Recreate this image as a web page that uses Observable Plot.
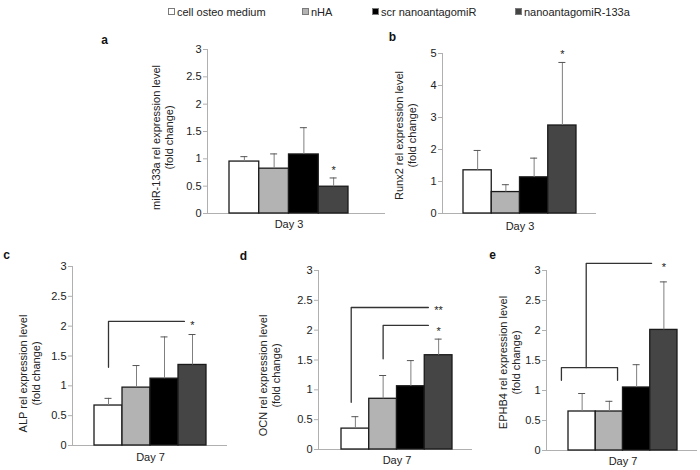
<!DOCTYPE html>
<html>
<head>
<meta charset="utf-8">
<script src="https://cdn.jsdelivr.net/npm/d3@7"></script>
<script src="https://cdn.jsdelivr.net/npm/@observablehq/plot@0.6"></script>
<style>
  body { margin: 0; background: #fff; }
  #chart { position: relative; width: 700px; height: 470px; overflow: hidden; background: #fff;
           font-family: "Liberation Sans", Arial, sans-serif; }
  #chart svg { position: absolute; left: 0; top: 0; }
  .lg { position: absolute; top: 5px; font-size: 11px; color: #222; white-space: nowrap; line-height: 14px; }
  .lg i { display: inline-block; width: 5px; height: 5px; border: 1px solid #7a7a7a; margin-right: 2px; vertical-align: 1px; }
</style>
</head>
<body>
<div id="chart"></div>
<script>
// ---------- data ----------
const groups = ["cell osteo medium", "nHA", "scr nanoantagomiR", "nanoantagomiR-133a"];
const groupColors = ["#ffffff", "#b3b3b3", "#000000", "#454545"];

// panel a: miR-133a, Day 3
const mir133aMean = [0.95, 0.82, 1.08, 0.49];
const mir133aErr  = [1.04, 1.09, 1.57, 0.65];
const mir133aStars = [{group: 3, y: 0.84, label: "*"}];

// panel b: Runx2, Day 3
const runx2Mean = [1.35, 0.67, 1.13, 2.75];
const runx2Err  = [1.97, 0.90, 1.73, 4.72];
const runx2Stars = [{group: 3, y: 5.05, label: "*"}];

// panel c: ALP, Day 7
const alpMean = [0.67, 0.97, 1.12, 1.35];
const alpErr  = [0.79, 1.34, 1.82, 1.86];
const alpStars = [{group: 3, y: 2.06, label: "*"}];
const alpBrackets = [{id: "c1", pts: [[0, 1.31], [0, 2.08], [2.71, 2.08]]}];

// panel d: OCN, Day 7
const ocnMean = [0.35, 0.85, 1.06, 1.58];
const ocnErr  = [0.55, 1.24, 1.49, 1.85];
const ocnStars = [{group: 3, y: 2.38, label: "**"}, {group: 3, y: 2.03, label: "*"}];
const ocnBrackets = [
  {id: "d1", pts: [[-0.15, 0.79], [-0.15, 2.38], [2.63, 2.38]]},
  {id: "d2", pts: [[1, 1.52], [1, 2.08], [2.63, 2.08]]}
];

// panel e: EPHB4, Day 7
const ephb4Mean = [0.65, 0.65, 1.05, 2.01];
const ephb4Err  = [0.95, 0.82, 1.43, 2.81];
const ephb4Stars = [{group: 3, y: 3.10, label: "*"}];
const ephb4Brackets = [
  {id: "e1", pts: [[-0.76, 1.17], [-0.76, 1.38], [1.30, 1.38], [1.30, 1.17]]},
  {id: "e2", pts: [[0.15, 1.38], [0.15, 3.12], [2.55, 3.12]]}
];

const yTicksStep3 = [0, 0.5, 1, 1.5, 2, 2.5, 3];
const yTicksStep5 = [0, 1, 2, 3, 4, 5];

// ---------- layout ----------
const panels = [
  {letter: "a", ylabel: "miR-133a rel expression level", day: "Day 3", mean: mir133aMean, err: mir133aErr,
   stars: mir133aStars, brackets: [], ymax: 3, ticks: yTicksStep3,
   L: {axisX: 207, axisEnd: 385, barL: 229, barR: 348, y0: 213, yTop: 49, labelX: 161.5, labelY: 137, letterX: 104, letterY: 40, dayY: 224}},
  {letter: "b", ylabel: "Runx2 rel expression level", day: "Day 3", mean: runx2Mean, err: runx2Err,
   stars: runx2Stars, brackets: [], ymax: 5, ticks: yTicksStep5,
   L: {axisX: 442, axisEnd: 596, barL: 463, barR: 576, y0: 213, yTop: 53, labelX: 405, labelY: 135, letterX: 392, letterY: 37, dayY: 226}},
  {letter: "c", ylabel: "ALP rel expression level", day: "Day 7", mean: alpMean, err: alpErr,
   stars: alpStars, brackets: alpBrackets, ymax: 3, ticks: yTicksStep3,
   L: {axisX: 72, axisEnd: 227, barL: 94, barR: 206, y0: 445, yTop: 266, labelX: 28.5, labelY: 373, letterX: 6, letterY: 255, dayY: 457}},
  {letter: "d", ylabel: "OCN rel expression level", day: "Day 7", mean: ocnMean, err: ocnErr,
   stars: ocnStars, brackets: ocnBrackets, ymax: 3, ticks: yTicksStep3,
   L: {axisX: 318, axisEnd: 472, barL: 341, barR: 452, y0: 449, yTop: 270, labelX: 268.5, labelY: 375, letterX: 243, letterY: 256, dayY: 460}},
  {letter: "e", ylabel: "EPHB4 rel expression level", day: "Day 7", mean: ephb4Mean, err: ephb4Err,
   stars: ephb4Stars, brackets: ephb4Brackets, ymax: 3, ticks: yTicksStep3,
   L: {axisX: 546, axisEnd: 697, barL: 568, barR: 677, y0: 450, yTop: 270, labelX: 508.5, labelY: 362, letterX: 492, letterY: 255, dayY: 461}}
];

const W = 700, H = 470;
const axisGray = "#b0b0b0";
const errGray = "#7f7f7f";
const chart = document.getElementById("chart");

// legend (HTML, above the plots)
const legendLeft = [168, 302, 372, 515];
groups.forEach((g, i) => {
  const d = document.createElement("div");
  d.className = "lg";
  d.style.left = legendLeft[i] + "px";
  const sw = document.createElement("i");
  sw.style.background = groupColors[i];
  d.appendChild(sw);
  d.appendChild(document.createTextNode(g));
  chart.appendChild(d);
});

for (const p of panels) {
  const L = p.L;
  const n = groups.length;
  const bw = (L.barR - L.barL) / n;
  const xDomain = [-0.5 - (L.barL - L.axisX) / bw, n - 0.5 + (L.axisEnd - L.barR) / bw];
  const data = groups.map((g, i) => ({g, i, mean: p.mean[i], err: p.err[i]}));
  const bracketPts = p.brackets.flatMap(b => b.pts.map(([x, y]) => ({id: b.id, x, y})));
  const frameMidY = (L.y0 + L.yTop) / 2;

  const svg = Plot.plot({
    width: W, height: H,
    marginLeft: L.axisX, marginRight: W - L.axisEnd, marginTop: L.yTop, marginBottom: H - L.y0,
    x: {domain: xDomain, axis: null},
    y: {domain: [0, p.ymax], axis: null},
    color: {domain: groups, range: groupColors},
    style: {background: "transparent", overflow: "visible", fontFamily: "'Liberation Sans', Arial, sans-serif", fontSize: "11px", color: "#222"},
    marks: [
      Plot.ruleX([xDomain[0]], {stroke: axisGray, strokeWidth: 1}),
      Plot.ruleY([0], {stroke: axisGray, strokeWidth: 1}),
      Plot.ruleY(p.ticks, {y: d => d, x1: xDomain[0], x2: xDomain[0], insetLeft: -4, stroke: axisGray}),
      Plot.axisY({ticks: p.ticks, tickSize: 0, tickPadding: 6, tickFormat: d => String(d), label: null, color: "#222"}),
      Plot.rect(data, {x1: d => d.i - 0.5, x2: d => d.i + 0.5, y1: 0, y2: "mean", fill: "g", stroke: "#1a1a1a", strokeWidth: 1.3}),
      Plot.ruleX(data, {x: "i", y1: "mean", y2: "err", stroke: errGray, strokeWidth: 1}),
      Plot.ruleY(data, {y: "err", x1: "i", x2: "i", insetLeft: -3.5, insetRight: -3.5, stroke: "#555", strokeWidth: 1}),
      Plot.line(bracketPts, {x: "x", y: "y", z: "id", stroke: "#333", strokeWidth: 1.3}),
      Plot.text(p.stars, {x: "group", y: "y", text: "label", dy: 3, fontSize: 11, fill: "#222"}),
      Plot.text([p.ylabel + "\n(fold change)"], {frameAnchor: "left", text: d => d, rotate: -90, textAnchor: "middle", lineAnchor: "middle",
        dx: L.labelX - L.axisX, dy: L.labelY - frameMidY, fontSize: 11, lineHeight: 1.2, fill: "#222"}),
      Plot.text([p.day], {x: (n - 1) / 2, frameAnchor: "bottom", text: d => d, lineAnchor: "middle", dy: L.dayY - L.y0, fontSize: 11, fill: "#222"}),
      Plot.text([p.letter], {frameAnchor: "top-left", text: d => d, textAnchor: "middle", lineAnchor: "middle",
        dx: L.letterX - L.axisX, dy: L.letterY - L.yTop, fontSize: 12, fontWeight: "bold", fill: "#111"})
    ]
  });
  chart.appendChild(svg);
}
</script>
</body>
</html>
